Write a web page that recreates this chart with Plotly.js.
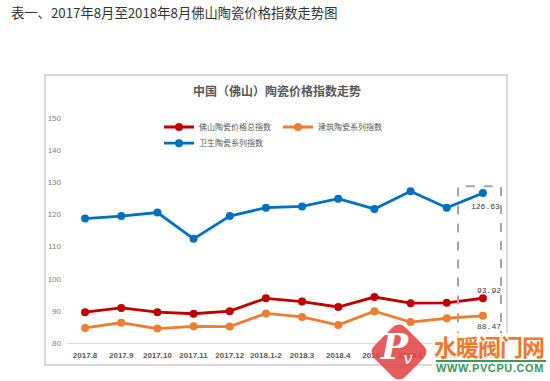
<!DOCTYPE html>
<html>
<head>
<meta charset="utf-8">
<script src="https://cdn.plot.ly/plotly-3.0.1.min.js"></script>
<style>
  html, body { margin: 0; padding: 0; background: #fff; }
  #wrap { position: relative; width: 550px; height: 381px; overflow: hidden; }
  #chart { position: absolute; left: 0; top: 0; width: 550px; height: 381px; }
  .wm { position: absolute; pointer-events: none; }
</style>
</head>
<body>
<div id="wrap">
  <div id="chart"></div>
  <!-- watermark overlay -->
  <div class="wm" style="left:432px; top:333px; width:118px; height:48px; background:rgba(255,255,255,0.8);"></div>
  <div class="wm" style="left:377px; top:330px; width:44px; height:44px; background:rgba(226,70,70,0.88); border-radius:9px; transform:rotate(45deg);"></div>
  <div class="wm" style="left:381px; top:325px; font-family:'DejaVu Serif'; font-style:italic; font-weight:bold; font-size:36px; color:#fff; line-height:42px;">P</div>
  <div class="wm" style="left:403px; top:348px; font-family:'DejaVu Serif'; font-style:italic; font-size:17px; color:#fff; line-height:20px;">v</div>
  <div class="wm" style="left:434px; top:333px; font-family:'Noto Sans CJK SC'; font-weight:bold; font-size:23px; letter-spacing:-1px; color:#F0792B; line-height:26px; white-space:nowrap;">水暖阀门网</div>
  <div class="wm" style="left:436px; top:360px; width:110px; height:2px; background:#3a9a5e;"></div>
  <div class="wm" style="left:436px; top:362px; font-family:'Liberation Sans'; font-weight:bold; font-size:11px; letter-spacing:0.6px; color:#3a9a5e; line-height:12px; white-space:nowrap;">WWW.PVCPU.COM</div>
</div>
<script>
// ---- data ----
const categories = ['2017.8','2017.9','2017.10','2017.11','2017.12','2018.1-2','2018.3','2018.4','2018.5','2018.6','2018.7','2018.8'];
const totalIndex = [89.6, 90.9, 89.6, 89.1, 89.9, 93.9, 92.9, 91.2, 94.3, 92.4, 92.5, 93.92];
const buildingIndex = [84.7, 86.3, 84.5, 85.2, 85.1, 89.2, 88.1, 85.6, 89.9, 86.5, 87.7, 88.47];
const sanitaryIndex = [118.7, 119.5, 120.6, 112.4, 119.5, 122.1, 122.5, 124.9, 121.7, 127.2, 122.1, 126.63];
const seriesNames = ['佛山陶瓷价格总指数', '建筑陶瓷系列指数', '卫生陶瓷系列指数'];
const yTicks = [80, 90, 100, 110, 120, 130, 140, 150];
const pageTitle = '表一、2017年8月至2018年8月佛山陶瓷价格指数走势图';
const chartTitle = '中国（佛山）陶瓷价格指数走势';

const colors = ['#C00000', '#ED7D31', '#0070C0'];
const cjk = "'Noto Sans CJK SC', sans-serif";

function mk(name, y, color, legend) {
  return {
    type: 'scatter', mode: 'lines+markers', name: name,
    x: categories, y: y,
    line: { color: color, width: 2.8 },
    marker: { color: color, size: 8 },
    legend: legend,
    hoverinfo: 'skip'
  };
}
const traces = [
  mk(seriesNames[0], totalIndex, colors[0], 'legend'),
  mk(seriesNames[1], buildingIndex, colors[1], 'legend'),
  mk(seriesNames[2], sanitaryIndex, colors[2], 'legend2')
];

const last = categories.length - 1;
const lblFont = { family: "Liberation Mono, monospace", size: 8, color: '#404040' };
function valLabel(arr, xs, ys) {
  return { xref: 'x', yref: 'y', x: last, y: arr[last], text: arr[last].toFixed(2),
    showarrow: false, xshift: xs, yshift: ys, font: lblFont };
}
const annotations = [
  { xref: 'paper', yref: 'paper', x: -0.134, y: 1.467, xanchor: 'left', yanchor: 'middle',
    text: pageTitle, showarrow: false, font: { family: cjk, size: 13.3, color: '#333' } },
  { xref: 'paper', yref: 'paper', x: 0.485, y: 1.12, xanchor: 'center', yanchor: 'middle',
    text: '<b>' + chartTitle + '</b>', showarrow: false, font: { family: cjk, size: 12, color: '#595959' } },
  valLabel(sanitaryIndex, 3, -13),
  valLabel(totalIndex, 6, 8),
  valLabel(buildingIndex, 6, -11)
];

const layout = {
  width: 550, height: 381,
  margin: { l: 67, r: 49, t: 118, b: 38, pad: 0 },
  paper_bgcolor: '#fff', plot_bgcolor: '#fff',
  font: { family: "'Liberation Sans', Arial, sans-serif", color: '#595959' },
  showlegend: true,
  legend: {
    orientation: 'h', x: 0.212, y: 0.96, xanchor: 'left', yanchor: 'middle',
    entrywidth: 74, entrywidthmode: 'pixels',
    font: { family: cjk, size: 8, color: '#595959' }, bgcolor: 'rgba(0,0,0,0)'
  },
  legend2: {
    orientation: 'h', x: 0.212, y: 0.888, xanchor: 'left', yanchor: 'middle',
    font: { family: cjk, size: 8, color: '#595959' }, bgcolor: 'rgba(0,0,0,0)'
  },
  xaxis: {
    type: 'category', range: [-0.5, categories.length - 0.5],
    showgrid: false, zeroline: false, showline: true, linecolor: '#d9d9d9', linewidth: 1,
    ticks: '', ticklabelstandoff: 4,
    tickfont: { family: "'Liberation Sans', Arial, sans-serif", size: 8, color: '#595959', weight: 'bold' },
    fixedrange: true
  },
  yaxis: {
    range: [80, 150], tickvals: yTicks, ticktext: yTicks.map(String),
    showgrid: false, zeroline: false, showline: false, ticks: '',
    ticklabelstandoff: 5,
    tickfont: { family: "'Liberation Sans', Arial, sans-serif", size: 8, color: '#808080' },
    fixedrange: true
  },
  shapes: [
    { type: 'rect', xref: 'paper', yref: 'paper', x0: -0.0507, x1: 1.0138, y0: -0.0978, y1: 1.191,
      line: { color: '#d9d9d9', width: 2 }, fillcolor: 'rgba(0,0,0,0)', layer: 'below' },
    { type: 'rect', xref: 'paper', yref: 'paper', x0: 0.9009, x1: 1.0, y0: -0.115, y1: 0.697,
      line: { color: '#a6a6a6', width: 2, dash: 'dash' }, fillcolor: 'rgba(0,0,0,0)', layer: 'above' }
  ],
  annotations: annotations
};

Plotly.newPlot('chart', traces, layout, { staticPlot: true, displayModeBar: false });
</script>
</body>
</html>
